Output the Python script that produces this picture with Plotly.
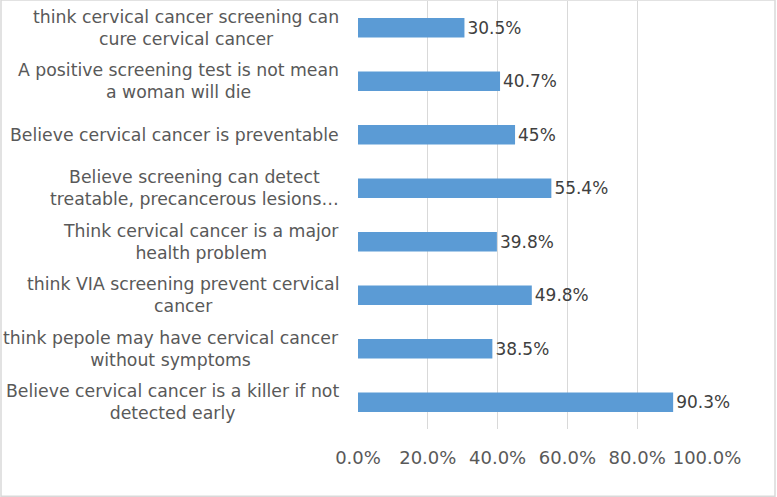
import plotly.graph_objects as go

categories = [
    "think cervical cancer screening can<br>cure cervical cancer",
    "A positive screening test is not mean<br>a woman will die",
    "Believe cervical cancer is preventable",
    "Believe screening can detect<br>treatable, precancerous lesions…",
    "Think cervical cancer is a major<br>health problem",
    "think VIA screening prevent cervical<br>cancer",
    "think pepole may have cervical cancer<br>without symptoms",
    "Believe cervical cancer is a killer if not<br>detected early",
]
values = [30.5, 40.7, 45, 55.4, 39.8, 49.8, 38.5, 90.3]
value_labels = ["30.5%", "40.7%", "45%", "55.4%", "39.8%", "49.8%", "38.5%", "90.3%"]
tick_values = [0, 20, 40, 60, 80, 100]
tick_labels = ["0.0%", "20.0%", "40.0%", "60.0%", "80.0%", "100.0%"]

FONT = "DejaVu Sans"

fig = go.Figure()
fig.add_trace(go.Bar(
    y=categories,
    x=values,
    orientation="h",
    marker=dict(color="#5B9BD5", line=dict(width=0)),
    width=0.36,
    text=value_labels,
    textposition="outside",
    textfont=dict(family=FONT, size=18.5, color="#404040"),
    cliponaxis=False,
    hoverinfo="skip",
))

for cat in categories:
    fig.add_annotation(
        x=-0.0487, xref="paper", y=cat, yref="y",
        text=cat, showarrow=False, xanchor="right", yanchor="middle",
        align="center",
        font=dict(family=FONT, size=17.3, color="#595959"),
    )

fig.add_shape(
    type="rect", xref="paper", yref="paper",
    x0=-357 / 349, x1=(775 - 358) / 349, y0=-(495 - 428) / 427, y1=1 + 1 / 427,
    line=dict(color="#D9D9D9", width=1.5), fillcolor="rgba(0,0,0,0)", layer="below",
)

fig.update_layout(
    width=777, height=497,
    margin=dict(l=358, r=70, t=1, b=68),
    paper_bgcolor="white", plot_bgcolor="white",
    showlegend=False,
    font=dict(family=FONT, color="#595959"),
    xaxis=dict(
        range=[0, 100],
        tickvals=tick_values, ticktext=tick_labels,
        showgrid=True, gridcolor="#D9D9D9", gridwidth=1,
        zeroline=False, showline=False,
        tickfont=dict(family=FONT, size=18, color="#595959"),
        ticklabelstandoff=16,
    ),
    yaxis=dict(
        autorange="reversed",
        showticklabels=False,
        showgrid=False, zeroline=False,
        showline=False,
    ),
)

fig.write_html("out.html", config={"displayModeBar": False},
               post_script="document.body.style.margin='0';")
